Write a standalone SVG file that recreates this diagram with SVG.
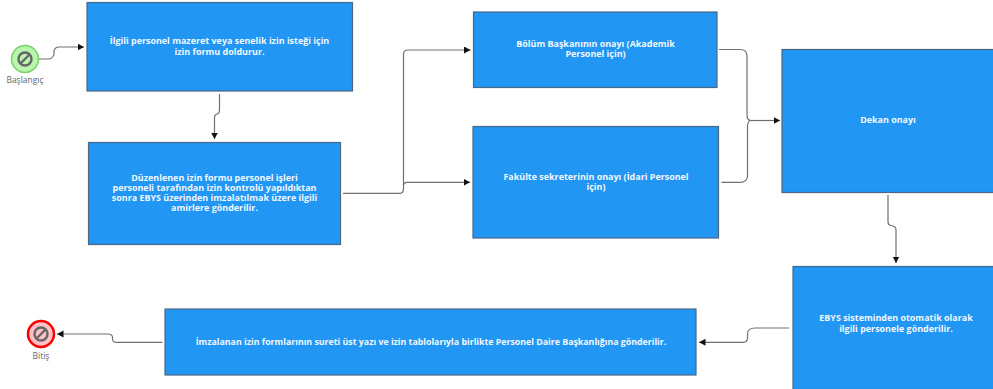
<svg xmlns="http://www.w3.org/2000/svg" width="993" height="389" viewBox="0 0 993 389">
<style>
.box{fill:#2196f3;stroke:#4a6785;stroke-width:1.2}
.t{font-family:"Open Sans","Noto Sans","Liberation Sans",sans-serif;font-size:8.95px;font-weight:700;fill:#f2f8ff;text-anchor:middle}
.s{font-size:8.8px}
.lbl{font-family:"Open Sans","Noto Sans","Liberation Sans",sans-serif;font-size:8.5px;fill:#666;text-anchor:middle}
.c{fill:none;stroke:#707070;stroke-width:1.2}
.ban{fill:none;stroke:#666;stroke-width:2.4}
</style>
<defs>
<marker id="a" markerUnits="userSpaceOnUse" markerWidth="7" markerHeight="8" refX="6.500" refY="3.500" orient="auto"><path d="M0 0L6.500 3.500L0 7Z" fill="#111"/></marker>
</defs>
<rect width="993" height="389" fill="#fff"/>
<g id="connectors">
<path class="c" marker-end="url(#a)" d="M39 59H48Q53 59 54 54V51Q55 47 59 47H84"/>
<path class="c" marker-end="url(#a)" d="M219.500 94V110Q219.500 114 216 114.500Q214.500 115 214.500 118V139"/>
<path class="c" marker-end="url(#a)" d="M343 193.300H400Q403.500 193.300 403.500 188V54Q403.500 50 408 50H470.500"/>
<path class="c" marker-end="url(#a)" d="M403.500 185Q404 182.300 407 182.300H470"/>
<path class="c" d="M719 49.500H740Q747 49.500 747 56V115Q747 120.500 751 120.500"/>
<path class="c" d="M721.500 182.300H740Q747 182.300 747.500 176V126Q748 120.500 751 120.500"/>
<path class="c" marker-end="url(#a)" d="M751 120.500H780"/>
<path class="c" marker-end="url(#a)" d="M888 195V222Q888 225 891 225.500Q896 226 896 230V263"/>
<path class="c" marker-end="url(#a)" d="M789 328H755Q747.500 328 747.500 334V338Q747.500 342.300 743 342.300H699"/>
<path class="c" marker-end="url(#a)" d="M162.500 342.300H116Q113 342.300 112.500 339V337Q112 334 108 334H57"/>
</g>
<g id="start">
<circle cx="25" cy="59" r="13.500" fill="#b9f5ad" stroke="#79d268" stroke-width="1.500"/>
<circle cx="25" cy="59" r="6.500" class="ban"/><path class="ban" d="M20.500 63.500L29.500 54.500"/>
<text class="lbl" x="25" y="83">Başlangıç</text>
</g>
<g id="end">
<circle cx="41" cy="334" r="13" fill="#ffc0c8" stroke="#f00" stroke-width="2.500"/>
<circle cx="41" cy="334" r="6.500" class="ban"/><path class="ban" d="M36.500 338.500L45.500 329.500"/>
<text class="lbl" x="41" y="358.500">Bitiş</text>
</g>
<g id="n1"><rect class="box" x="87" y="2.500" width="265.500" height="88.500"/>
<text class="t" x="219.500" y="44">İlgili personel mazeret veya senelik izin isteği için</text><text class="t" x="219.500" y="54.500">izin formu doldurur.</text></g>
<g id="n2"><rect class="box" x="88.500" y="142.500" width="252" height="102"/>
<text class="t" x="214.500" y="180.500">Düzenlenen izin formu personel işleri</text><text class="t" x="214.500" y="190.500">personeli tarafından izin kontrolü yapıldıktan</text><text class="t" x="214.500" y="201">sonra EBYS üzerinden imzalatılmak üzere ilgili</text><text class="t" x="214.500" y="211">amirlere gönderilir.</text></g>
<g id="n3"><rect class="box" x="473.500" y="12" width="243.500" height="75.500"/>
<text class="t" x="595.500" y="46.500">Bölüm Başkanının onayı (Akademik</text><text class="t" x="595.500" y="57">Personel için)</text></g>
<g id="n4"><rect class="box" x="473" y="126.500" width="245.500" height="111.500"/>
<text class="t" x="596" y="180">Fakülte sekreterinin onayı (İdari Personel</text><text class="t" x="596" y="190">için)</text></g>
<g id="n5"><rect class="box" x="782" y="49.500" width="212" height="143"/>
<text class="t" x="888" y="123">Dekan onayı</text></g>
<g id="n6"><rect class="box" x="793" y="266.500" width="201" height="123"/>
<text class="t" x="896" y="321">EBYS sisteminden otomatik olarak</text><text class="t" x="896" y="331.500">ilgili personele gönderilir.</text></g>
<g id="n7"><rect class="box" x="165" y="309" width="531" height="66"/>
<text class="t s" x="431" y="344.500">İmzalanan izin formlarının sureti üst yazı ve izin tablolarıyla birlikte Personel Daire Başkanlığına gönderilir.</text></g>
</svg>
